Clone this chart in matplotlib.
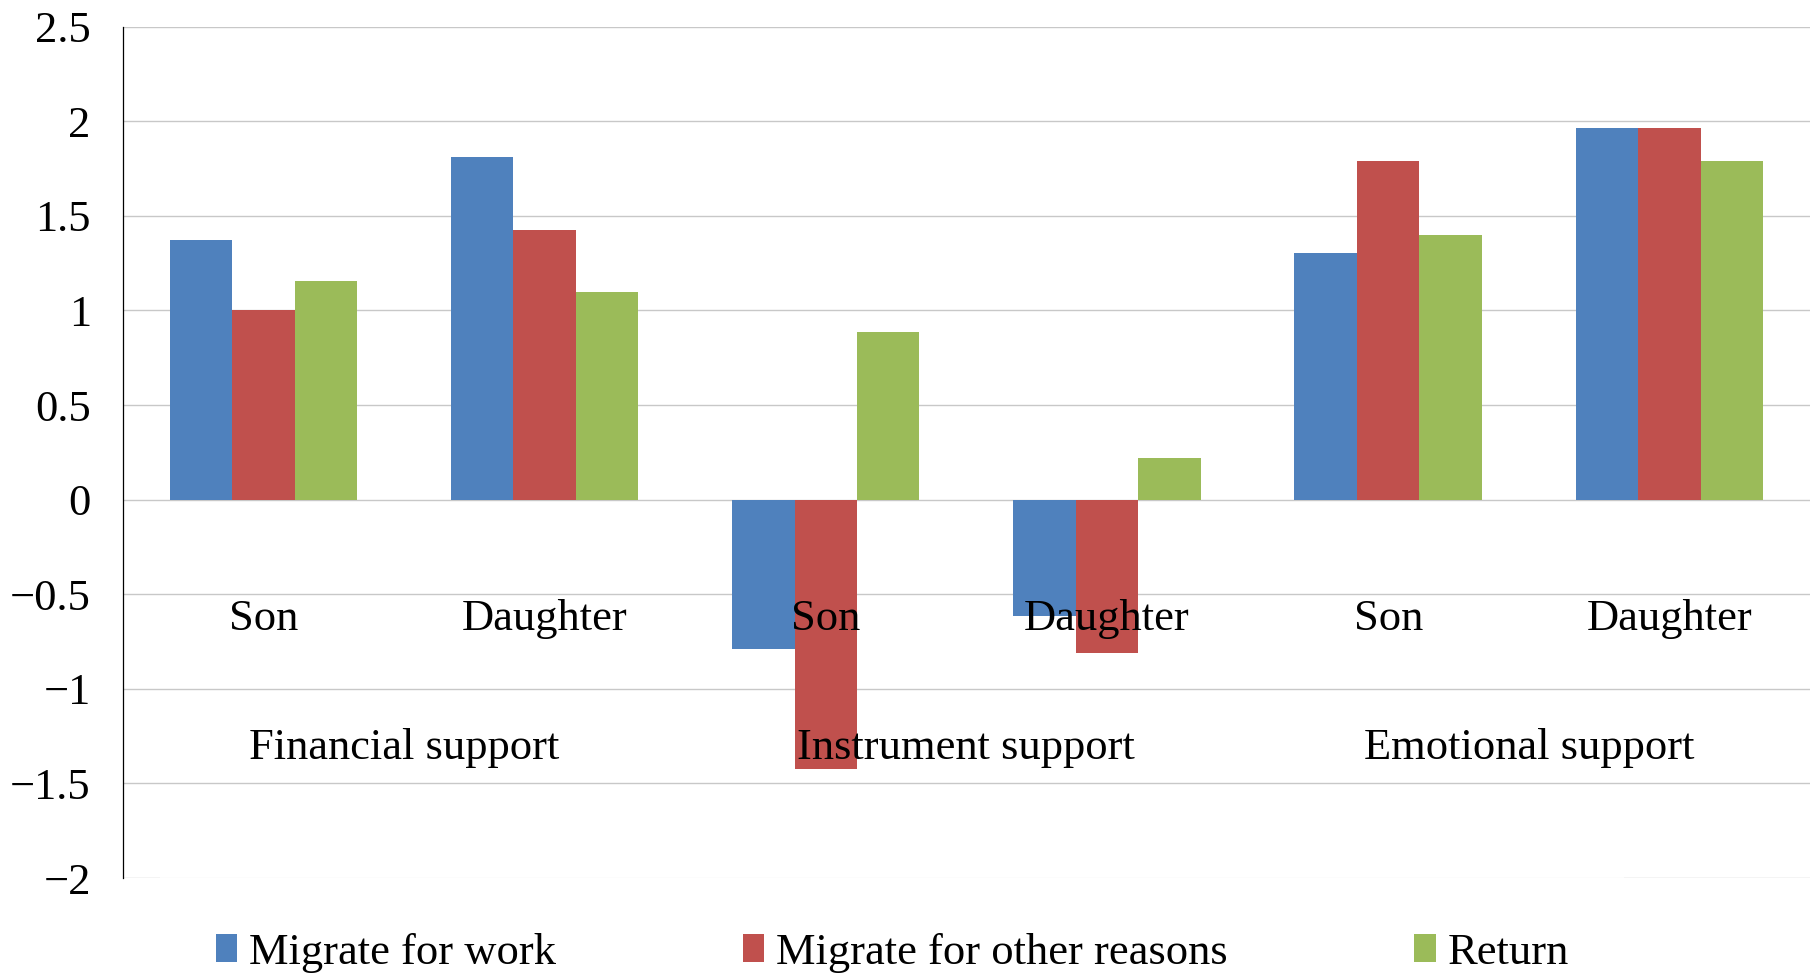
import matplotlib
matplotlib.use("Agg")
import matplotlib.pyplot as plt
import numpy as np

# ---- data ----
groups = ["Financial support", "Instrument support", "Emotional support"]
categories = ["Son", "Daughter", "Son", "Daughter", "Son", "Daughter"]
series_names = ["Migrate for work", "Migrate for other reasons", "Return"]
migrate_work = [1.37, 1.81, -0.79, -0.615, 1.305, 1.965]
migrate_other = [1.00, 1.425, -1.425, -0.81, 1.79, 1.965]
return_vals = [1.155, 1.10, 0.885, 0.22, 1.40, 1.79]
yticks = [-2, -1.5, -1, -0.5, 0, 0.5, 1, 1.5, 2, 2.5]
ytick_labels = ["\u22122", "\u22121.5", "\u22121", "\u22120.5", "0", "0.5", "1", "1.5", "2", "2.5"]

colors = ["#4F81BD", "#C0504D", "#9BBB59"]
FONT = "Liberation Serif"
FS = 32

plt.rcParams["font.family"] = [FONT, "DejaVu Serif"]

fig = plt.figure(figsize=(18.10, 9.73), dpi=100)
ax = fig.add_axes([0.0678, 0.0976, 1 - 0.0678, 0.9726 - 0.0976])

n = len(categories)
x = np.arange(n) + 0.5
w = 1 / 4.5
all_series = [migrate_work, migrate_other, return_vals]
for k, (vals, col, name) in enumerate(zip(all_series, colors, series_names)):
    ax.bar(x + (k - 1) * w, vals, width=w, color=col, label=name, zorder=2, linewidth=0)

ax.set_xlim(0, n)
ax.set_ylim(-2, 2.5)
ax.set_yticks(yticks)
ax.set_yticklabels(ytick_labels, fontsize=FS)
ax.tick_params(axis="y", length=0, pad=23)
ax.set_xticks([])
ax.yaxis.grid(True, color="#c8c8c8", linewidth=1.0, zorder=0)
ax.set_axisbelow(True)
for s in ["top", "right", "bottom"]:
    ax.spines[s].set_visible(False)
ax.spines["left"].set_color("black")
ax.spines["left"].set_linewidth(0.9)

# category labels inside plot
for xi, lab in zip(x, categories):
    ax.text(xi, -0.689, lab, ha="center", va="baseline", fontsize=FS, zorder=3)
for gi, g in enumerate(groups):
    ax.text(2 * gi + 1, -1.371, g, ha="center", va="baseline", fontsize=FS, zorder=3)

leg = fig.legend(loc="center", bbox_to_anchor=(0.493, 0.021), ncol=3, fontsize=FS,
                 frameon=True, fancybox=False, handlelength=0.48, handleheight=0.6,
                 handletextpad=0.27, columnspacing=4.2, borderpad=1.25)
leg.get_frame().set_facecolor("white")
leg.get_frame().set_edgecolor("white")
leg.get_frame().set_linewidth(0)

fig.savefig("out.png", dpi=100, facecolor="white")
